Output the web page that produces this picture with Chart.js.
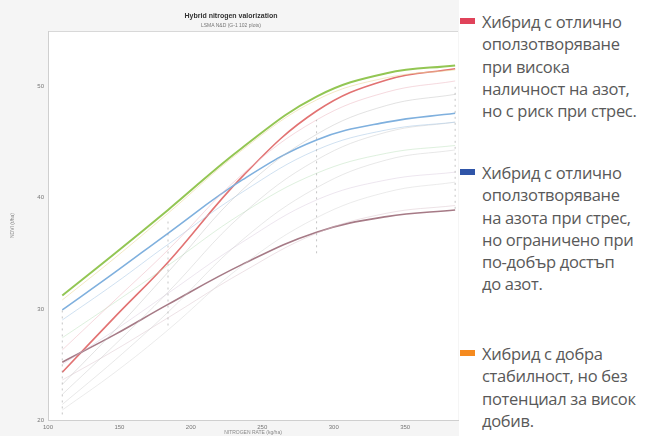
<!DOCTYPE html>
<html>
<head>
<meta charset="utf-8">
<script src="https://cdn.jsdelivr.net/npm/chart.js@4/dist/chart.umd.min.js"></script>
<style>
  html,body{margin:0;padding:0;background:#fff;width:656px;height:436px;overflow:hidden;}
  #wrap{position:absolute;left:0;top:0;width:462px;height:436px;}
  #title{position:absolute;left:0;width:462px;top:12px;text-align:center;font:bold 7px "Liberation Sans",Arial,sans-serif;color:#333;}
  #subtitle{position:absolute;left:0;width:462px;top:22px;text-align:center;font:5px "Liberation Sans",Arial,sans-serif;color:#777;}
  #legend{position:absolute;left:459px;top:0;width:197px;height:436px;background:#fff;font-family:"Open Sans","Noto Sans",sans-serif;color:#595959;}
  .item{position:absolute;left:0;}
  .sw{position:absolute;left:1px;width:15px;height:6px;}
  .txt{position:absolute;left:23px;font-size:16.5px;line-height:22.3px;white-space:nowrap;letter-spacing:-0.3px;}
</style>
</head>
<body>
<div id="wrap">
  <canvas id="c" width="462" height="436"></canvas>
  <div id="title">Hybrid nitrogen valorization</div>
  <div id="subtitle">LSMA N&amp;D (G-1 102 plots)</div>
</div>
<div id="legend"></div>
<script>
// ---- data ----
const xValues = [110, 147, 184, 236, 288, 337, 385];
const xTicks = [100, 150, 200, 250, 300, 350];
const yTicks = [20, 30, 40, 50];

const greenSeries  = [31.2, 35.0, 38.9, 44.5, 49.1, 51.2, 51.9];
const redSeries    = [24.3, 29.3, 34.2, 41.9, 47.8, 50.6, 51.6];
const blueSeries   = [29.9, 33.3, 36.8, 41.6, 45.2, 46.8, 47.6];
const purpleSeries = [25.2, 27.7, 30.4, 34.0, 36.9, 38.3, 38.9];

const faint1  = [30.8, 34.6, 38.6, 44.3, 48.8, 50.8, 51.5];
const faint2  = [26.3, 30.8, 35.3, 42.1, 47.0, 49.5, 50.5];
const faint3  = [23.2, 28.1, 33.3, 40.7, 45.7, 48.3, 49.3];
const faint4  = [29.0, 32.3, 35.8, 40.5, 44.3, 46.1, 46.8];
const faint5  = [22.3, 26.8, 31.5, 38.5, 43.4, 45.9, 46.8];
const faint6  = [27.4, 30.6, 33.9, 38.6, 42.2, 44.0, 44.7];
const faint7  = [21.4, 25.4, 29.7, 36.2, 40.9, 43.4, 44.3];
const faint8  = [25.0, 28.1, 31.4, 36.0, 39.8, 41.6, 42.3];
const faint9  = [20.9, 24.3, 28.1, 33.9, 38.2, 40.5, 41.4];
const faint10 = [23.6, 26.3, 29.2, 33.3, 36.8, 38.6, 39.3];

// vertical sampling ranges
const sampleX    = [110, 184, 288, 385];
const sampleLow  = [20.5, 28.5, 35.0, 39.0];
const sampleHigh = [30.0, 38.0, 47.0, 50.0];

const legendLabels = [
  "Хибрид с отлично\nоползотворяване\nпри висока\nналичност на азот,\nно с риск при стрес.",
  "Хибрид с отлично\nоползотворяване\nна азота при стрес,\nно ограничено при\nпо-добър достъп\nдо азот.",
  "Хибрид с добра\nстабилност, но без\nпотенциал за висок\nдобив."
];
const legendColors = ["#e0435a", "#2f55a8", "#f58a1f"];
const legendTops = [11, 162, 343];

// ---- build ----
function pts(arr){ return arr.map((v,i)=>({x:xValues[i], y:v})); }
function line(data, color, width){
  return {data:pts(data), borderColor:color, borderWidth:width, pointRadius:0, tension:0.4, fill:false};
}
const datasets = [];
sampleX.forEach((x,i)=>{
  datasets.push({data:[{x:x,y:sampleLow[i]},{x:x,y:sampleHigh[i]}], borderColor:'rgba(150,150,150,0.55)', borderWidth:1, borderDash:[2,4], pointRadius:0, tension:0, fill:false});
});
const faintColors = ['rgba(235,215,150,0.55)','rgba(235,180,190,0.5)','rgba(190,190,190,0.45)','rgba(170,200,230,0.55)','rgba(200,200,200,0.45)','rgba(190,225,190,0.5)','rgba(205,205,205,0.45)','rgba(215,200,220,0.45)','rgba(210,210,210,0.45)','rgba(215,190,200,0.45)'];
[faint1,faint2,faint3,faint4,faint5,faint6,faint7,faint8,faint9,faint10].forEach((f,i)=>datasets.push(line(f, faintColors[i], 1)));
datasets.push(line(purpleSeries, '#a67a86', 1.6));
datasets.push(line(blueSeries, '#7fb0de', 1.6));
datasets.push(line(redSeries, '#e27272', 1.6));
datasets.push(line(greenSeries, '#93c653', 2));

const bgPlugin = {
  id:'bg',
  beforeDraw(chart){
    const {ctx, chartArea:a} = chart;
    ctx.save();
    ctx.fillStyle = '#f5f5f5';
    ctx.fillRect(0,0,chart.width,chart.height);
    ctx.fillStyle = '#ffffff';
    ctx.fillRect(a.left, a.top, a.right-a.left, a.bottom-a.top);
    ctx.strokeStyle = '#d8d8d8';
    ctx.lineWidth = 1;
    ctx.beginPath();
    ctx.moveTo(a.left, a.top+0.5); ctx.lineTo(a.right, a.top+0.5);
    ctx.stroke();
    ctx.restore();
  }
};

new Chart(document.getElementById('c'), {
  type:'line',
  data:{datasets},
  plugins:[bgPlugin],
  options:{
    responsive:false,
    animation:false,
    layout:{padding:{left:10, top:31, right:4, bottom:0}},
    plugins:{legend:{display:false}, tooltip:{enabled:false}},
    scales:{
      x:{
        type:'linear', min:100, max:387,
        afterBuildTicks(s){ s.ticks = xTicks.map(v=>({value:v})); },
        afterFit(s){ s.height = 16; },
        grid:{display:false, tickLength:3},
        border:{color:'#cfcfcf'},
        ticks:{font:{size:6, family:'Liberation Sans'}, color:'#777', padding:1, maxRotation:0},
        title:{display:true, text:'NITROGEN RATE (kg/ha)', font:{size:5, family:'Liberation Sans'}, color:'#888', padding:0}
      },
      y:{
        type:'linear', min:20, max:55,
        afterBuildTicks(s){ s.ticks = yTicks.map(v=>({value:v})); },
        afterFit(s){ s.width = 38; },
        grid:{display:false, tickLength:3},
        border:{color:'#cfcfcf'},
        ticks:{font:{size:6, family:'Liberation Sans'}, color:'#777', padding:1},
        title:{display:true, text:'NDVI (t/ha)', font:{size:5, family:'Liberation Sans'}, color:'#888', padding:{top:0,bottom:6}}
      }
    }
  }
});

// legend
const lg = document.getElementById('legend');
legendLabels.forEach((t,i)=>{
  const it = document.createElement('div');
  it.className = 'item';
  it.style.top = legendTops[i] + 'px';
  const sw = document.createElement('div');
  sw.className = 'sw'; sw.style.background = legendColors[i]; sw.style.top = '7px';
  const tx = document.createElement('div');
  tx.className = 'txt';
  t.split('\n').forEach((ln,j)=>{ if(j) tx.appendChild(document.createElement('br')); tx.appendChild(document.createTextNode(ln)); });
  it.appendChild(sw); it.appendChild(tx);
  lg.appendChild(it);
});
</script>
</body>
</html>
